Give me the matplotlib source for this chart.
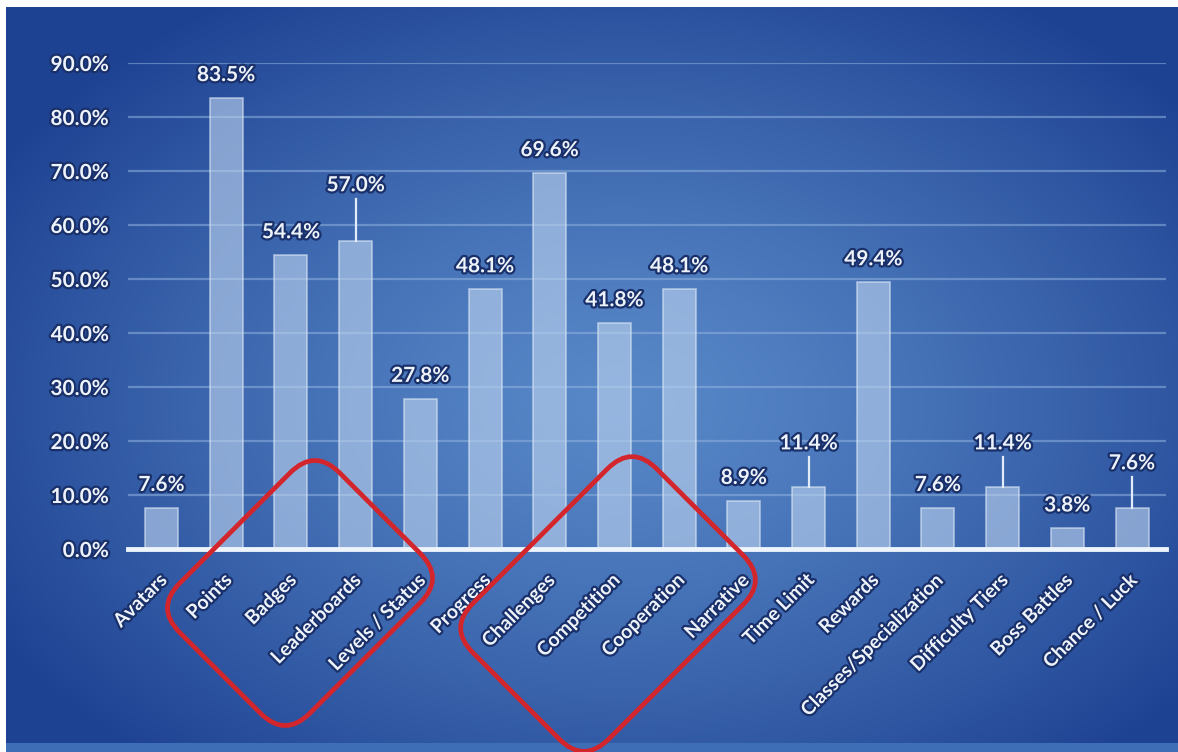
"""Bar chart of game mechanics on a blue slide background"""
import numpy as np
import matplotlib
matplotlib.use("Agg")
import matplotlib.pyplot as plt
import matplotlib.patheffects as pe
from matplotlib.patches import FancyBboxPatch
from matplotlib.transforms import Affine2D
from matplotlib.ticker import FuncFormatter

plt.rcParams['font.family'] = ['Lato', 'DejaVu Sans']
plt.rcParams['font.weight'] = 'bold'

# data
categories = ["Avatars", "Points", "Badges", "Leaderboards", "Levels / Status",
              "Progress", "Challenges", "Competition", "Cooperation", "Narrative",
              "Time Limit", "Rewards", "Classes/Specialization",
              "Difficulty Tiers", "Boss Battles", "Chance / Luck"]
values = [7.6, 83.5, 54.4, 57.0, 27.8, 48.1, 69.6, 41.8, 48.1, 8.9,
          11.4, 49.4, 7.6, 11.4, 3.8, 7.6]
y_ticks = [0, 10, 20, 30, 40, 50, 60, 70, 80, 90]

# labels raised above the bar with a leader line (extra height, in %)
leader_extra = {"Leaderboards": 6.1, "Time Limit": 3.9,
                "Difficulty Tiers": 3.9, "Chance / Luck": 4.0}

W, H = 1178, 752
fig = plt.figure(figsize=(W / 100, H / 100), dpi=100)

# background: white margin, radial blue gradient, lighter strip at bottom
yy, xx = np.mgrid[0:H, 0:W]
d = np.sqrt(((xx - 620) / 720.0) ** 2 + ((yy - 400) / 480.0) ** 2)
t = np.clip(d, 0, 1) ** 1.3
c_center = np.array([88, 136, 200]) / 255.0
c_edge = np.array([30, 66, 146]) / 255.0
img = c_center[None, None, :] * (1 - t[..., None]) + c_edge[None, None, :] * t[..., None]
img[743:, :, :] = np.array([62, 110, 182]) / 255.0
img[:7, :, :] = 1.0
img[:, :6, :] = 1.0
bg = fig.add_axes([0, 0, 1, 1])
bg.imshow(img, aspect='auto', interpolation='bilinear')
bg.axis('off')

txt_fx = [pe.withStroke(linewidth=3.2, foreground='#19306a')]
txt_col = '#eef3fa'

ax = fig.add_axes([128 / W, 1 - 549 / H, (1166 - 128) / W, (549 - 63) / H])
ax.patch.set_alpha(0)
x = np.arange(len(categories))

ax.bar(x, values, width=0.51, color='#bcd2ee', alpha=0.62,
       edgecolor='#dde9f7', linewidth=1.2, zorder=3)

for i, (cat, v) in enumerate(zip(categories, values)):
    extra = leader_extra.get(cat, 0)
    if extra:
        ax.plot([i, i], [v, v + extra + 1.8], color='#e2ecf8', lw=1.6, zorder=4)
    ax.annotate(f"{v:.1f}%", xy=(i, v + extra), xytext=(0, 23),
                textcoords='offset pixels', ha='center', va='center',
                fontsize=15, fontweight='bold', color=txt_col,
                path_effects=txt_fx, zorder=5)
    ax.annotate(cat, xy=(i, 0), xytext=(3, -28), textcoords='offset pixels',
                rotation=45, rotation_mode='anchor', ha='right', va='center',
                fontsize=14, fontweight='bold', color=txt_col,
                path_effects=txt_fx, annotation_clip=False)

ax.set_xlim(-0.518, 15.525)
ax.set_ylim(0, 90)
ax.set_yticks(y_ticks)
ax.yaxis.set_major_formatter(FuncFormatter(lambda v, p: f"{v:.1f}%"))
ax.set_xticks([])
ax.tick_params(axis='y', length=0, pad=14, labelsize=15, labelcolor=txt_col)
for lab in ax.get_yticklabels():
    lab.set_fontweight('bold')
    lab.set_path_effects(txt_fx)
for yv in y_ticks[1:]:
    ax.axhline(yv, color='#90b2de', alpha=0.55, lw=1.6, zorder=1)
ax.axhline(0, color='#edf4fc', lw=3.5, zorder=6, clip_on=False)
for s in ax.spines.values():
    s.set_visible(False)

# red rounded frames around two label groups (pixel overlay)
ov = fig.add_axes([0, 0, 1, 1])
ov.set_xlim(0, W)
ov.set_ylim(H, 0)
ov.axis('off')
ov.patch.set_alpha(0)
for cx, cy, L, Wd in [(300, 593, 226, 184), (608, 604, 260, 192)]:
    box = FancyBboxPatch((cx - L / 2, cy - Wd / 2), L, Wd,
                         boxstyle="round,pad=0,rounding_size=35",
                         facecolor='none', edgecolor='#d3262c', linewidth=3.4,
                         transform=Affine2D().rotate_deg_around(cx, cy, -45) + ov.transData)
    ov.add_patch(box)

fig.savefig("out.png", dpi=100)
